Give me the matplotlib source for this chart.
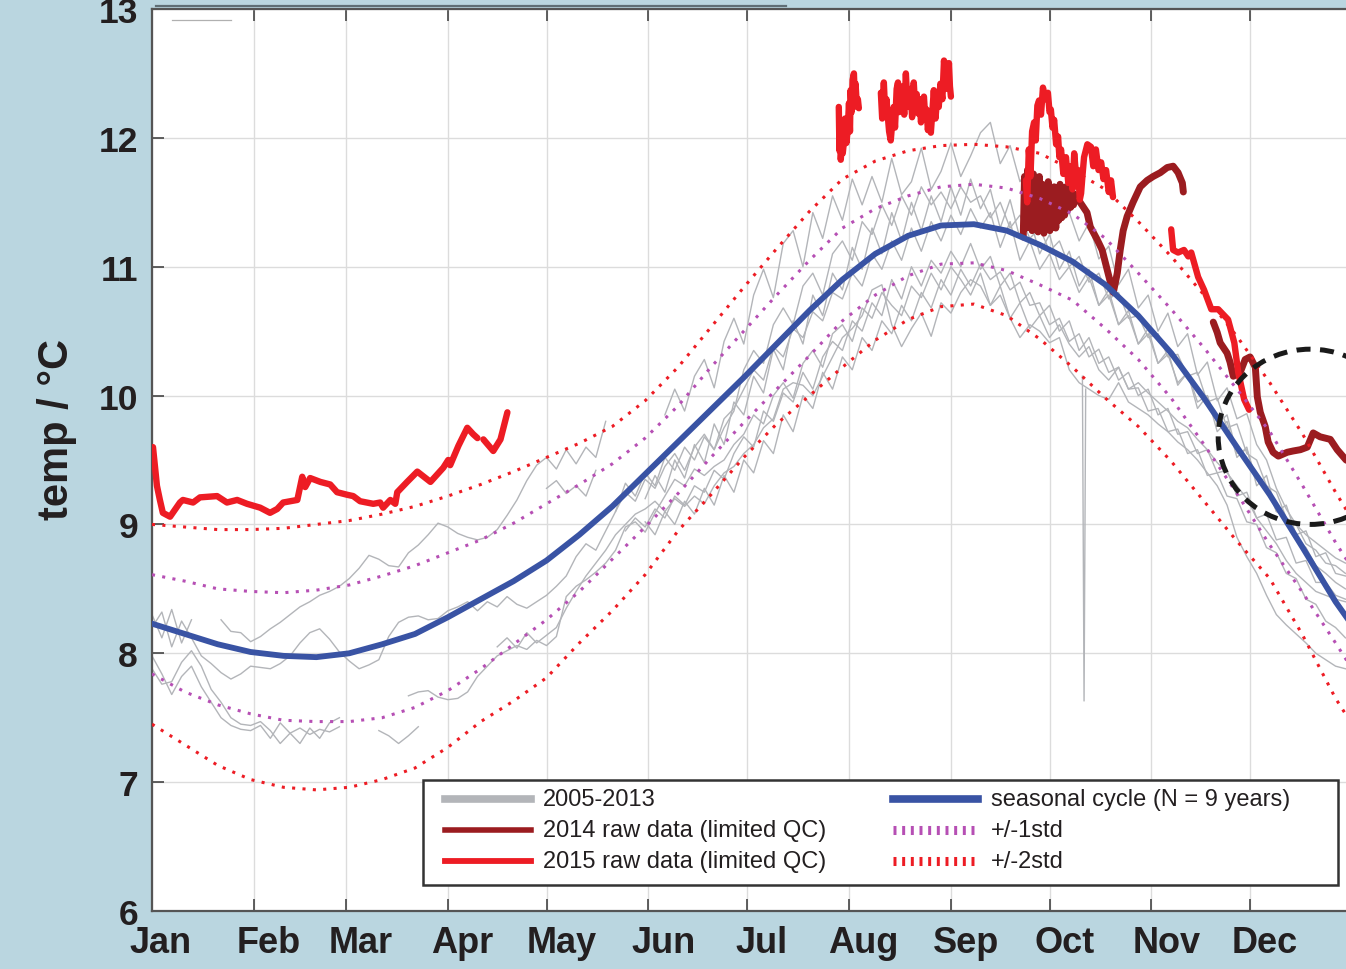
import numpy as np
import matplotlib.pyplot as plt
from matplotlib.lines import Line2D
from matplotlib.patches import Ellipse, Rectangle

plt.rcParams['font.family'] = ['Liberation Sans', 'DejaVu Sans']
nan = np.nan

months = ['Jan', 'Feb', 'Mar', 'Apr', 'May', 'Jun', 'Jul', 'Aug', 'Sep', 'Oct', 'Nov', 'Dec']
month_start = [0, 31, 59, 90, 120, 151, 181, 212, 243, 273, 304, 334]

# seasonal cycle and std envelopes (day of year, degC)
clim_days = [0, 10, 20, 30, 40, 50, 60, 70, 80, 90, 100, 110, 120, 130, 140, 150, 160, 170, 180,
             190, 200, 210, 220, 230, 240, 250, 260, 270, 280, 290, 300, 310, 320, 330, 340, 350, 360, 365]
clim_mean = [8.23, 8.15, 8.07, 8.01, 7.98, 7.97, 8.00, 8.07, 8.15, 8.28, 8.42, 8.56, 8.72, 8.92, 9.14,
             9.39, 9.64, 9.89, 10.14, 10.40, 10.66, 10.90, 11.10, 11.24, 11.32, 11.33, 11.28, 11.17,
             11.04, 10.86, 10.62, 10.33, 9.98, 9.60, 9.23, 8.82, 8.40, 8.22]
clim_p1 = [8.61, 8.56, 8.50, 8.48, 8.47, 8.49, 8.53, 8.60, 8.68, 8.78, 8.88, 9.01, 9.16, 9.31, 9.47,
           9.67, 9.92, 10.22, 10.50, 10.78, 11.05, 11.30, 11.45, 11.55, 11.62, 11.64, 11.61, 11.53,
           11.41, 11.22, 10.95, 10.67, 10.37, 10.05, 9.72, 9.30, 8.86, 8.66]
clim_m1 = [7.84, 7.70, 7.60, 7.53, 7.48, 7.47, 7.47, 7.50, 7.58, 7.71, 7.88, 8.07, 8.26, 8.48, 8.73,
           8.98, 9.24, 9.52, 9.79, 10.05, 10.31, 10.58, 10.78, 10.93, 11.02, 11.03, 10.97, 10.86,
           10.74, 10.52, 10.28, 9.98, 9.62, 9.24, 8.84, 8.47, 8.08, 7.88]
clim_p2 = [9.00, 8.98, 8.96, 8.96, 8.97, 9.00, 9.03, 9.08, 9.14, 9.22, 9.31, 9.41, 9.52, 9.63, 9.76,
           9.96, 10.22, 10.53, 10.84, 11.14, 11.43, 11.68, 11.82, 11.90, 11.94, 11.95, 11.93, 11.88,
           11.75, 11.60, 11.35, 11.08, 10.78, 10.46, 10.10, 9.70, 9.25, 9.04]
clim_m2 = [7.45, 7.29, 7.13, 7.02, 6.96, 6.94, 6.96, 7.02, 7.11, 7.27, 7.47, 7.63, 7.81, 8.08, 8.33,
           8.61, 8.95, 9.23, 9.52, 9.78, 10.00, 10.22, 10.43, 10.59, 10.69, 10.71, 10.62, 10.44,
           10.22, 9.98, 9.76, 9.49, 9.18, 8.87, 8.58, 8.14, 7.65, 7.45]

# 2005-2013 records, every 3rd day (0, 3, ..., 363)
hist_days = list(range(0, 366, 3))
hist_a = [8.30, 8.12, 8.34, 8.08, 8.26, nan, nan, 8.26, 8.17, 8.16,
          8.09, 8.13, 8.19, 8.24, 8.30, 8.36, 8.40, 8.45, 8.48, 8.52,
          8.58, 8.66, 8.76, 8.73, 8.68, 8.67, 8.78, 8.84, 8.92, 9.01,
          8.98, 8.93, 8.90, 8.88, 8.90, 8.96, 9.07, 9.19, 9.34, 9.46,
          9.52, 9.43, 9.58, 9.47, 9.60, 9.52, 9.80, nan, nan, nan,
          nan, nan, 9.85, 10.05, 9.88, 10.15, 10.28, 10.06, 10.42, 10.60,
          10.40, 10.78, 10.98, 10.76, 11.18, 11.28, 11.00, 11.42, 11.22, 11.55,
          11.36, 11.68, 11.48, 11.70, 11.50, 11.84, 11.56, 11.66, 11.92, 11.60,
          11.74, 11.96, 11.70, 11.86, 12.04, 12.12, 11.80, 11.94, 11.66, 11.78,
          11.46, 11.58, 11.36, 11.42, 11.20, 11.34, 11.06, 11.16, 10.86, 10.98,
          10.68, 10.78, 10.50, 10.64, 10.38, 10.48, 10.16, 10.26, 9.96, 10.06,
          9.82, 9.86, 9.62, 9.50, 9.28, 9.12, 9.00, 8.92, 8.86, 8.80,
          8.74, 8.70]
hist_b = [7.98, 7.84, 7.68, 7.82, 7.90, 7.74, 7.62, 7.50, 7.44, 7.41,
          7.40, 7.44, 7.34, 7.46, 7.38, 7.42, 7.37, 7.41, 7.39, 7.43,
          nan, nan, nan, nan, nan, nan, 7.67, 7.70, 7.71, 7.66,
          7.64, 7.65, 7.70, 7.82, 7.90, 7.98, 8.02, 8.06, 8.03, 8.10,
          8.06, 8.13, 8.44, 8.52, 8.57, 8.63, 8.70, 8.80, 8.98, 9.02,
          8.94, 9.09, 9.22, 9.35, 9.30, 9.43, 9.38, 9.45, 9.50, 9.62,
          9.70, 9.85, 9.78, 10.00, 10.10, 9.98, 10.25, 10.35, 10.22, 10.48,
          10.55, 10.42, 10.68, 10.60, 10.80, 10.70, 10.62, 10.85, 10.76, 10.95,
          10.82, 11.00, 10.90, 10.78, 10.95, 10.70, 10.85, 10.60, 10.72, 10.52,
          10.62, 10.45, 10.55, 10.40, 10.30, 10.38, 10.20, 10.12, 10.22, 10.05,
          10.10, 10.02, 9.95, 9.88, 9.80, 9.75, 9.66, 9.58, 9.48, 9.40,
          9.30, 9.20, 9.05, 8.95, 8.85, 8.72, 8.62, 8.55, 8.48, 8.45,
          8.42, 8.40]
hist_c = [8.20, 8.32, 8.05, 8.25, 8.12, 7.98, 7.92, 7.85, 7.80, 7.84,
          7.90, 7.89, 7.88, 7.92, 7.98, 8.08, 8.16, 8.19, 8.11, 8.01,
          7.94, 7.88, 7.91, 7.95, 8.13, 8.24, 8.28, 8.29, 8.26, 8.27,
          8.33, 8.36, 8.40, 8.33, 8.40, 8.36, 8.44, 8.38, 8.35, 8.40,
          8.45, 8.52, 8.60, 8.75, 8.85, 8.80, 8.95, 9.10, 9.25, 9.18,
          9.35, 9.28, 9.45, 9.55, 9.42, 9.60, 9.70, 9.58, 9.82, 9.90,
          10.05, 10.20, 10.12, 10.38, 10.30, 10.52, 10.45, 10.65, 10.58, 10.80,
          10.75, 10.95, 10.85, 11.10, 10.98, 11.20, 11.05, 11.30, 11.12, 11.35,
          11.20, 11.40, 11.25, 11.45, 11.30, 11.42, 11.15, 11.35, 11.05, 11.20,
          10.98, 11.10, 10.90, 11.00, 10.80, 10.92, 10.70, 10.78, 10.55, 10.62,
          10.40, 10.48, 10.25, 10.32, 10.10, 10.18, 9.95, 10.00, 9.78, 9.85,
          9.55, 9.58, 9.35, 9.30, 9.10, 9.05, 8.88, 8.82, 8.68, 8.62,
          8.55, 8.50]
hist_d = [7.88, 7.76, 7.78, 7.93, 8.02, 7.90, 7.72, 7.62, 7.50, 7.45,
          7.44, 7.47, 7.40, 7.30, 7.38, 7.30, 7.42, 7.34, 7.46, 7.50,
          nan, nan, nan, 7.40, 7.36, 7.30, 7.36, 7.43, nan, nan,
          nan, nan, nan, nan, nan, 8.05, 8.12, 8.04, 8.16, 8.08,
          8.14, 8.20, 8.35, 8.48, 8.60, 8.70, 8.80, 8.92, 9.00, 9.08,
          9.12, 9.18, 9.10, 9.20, 9.14, 9.22, 9.16, 9.30, 9.40, 9.45,
          9.55, 9.62, 9.75, 9.82, 10.05, 10.10, 10.08, 10.00, 10.15, 10.30,
          10.45, 10.52, 10.62, 10.82, 10.86, 10.55, 10.38, 10.52, 10.64, 10.46,
          10.72, 10.64, 10.80, 10.90, 10.85, 10.70, 10.78, 10.60, 10.45, 10.55,
          10.50, 10.41, 10.45, 10.20, 10.10, 10.05, 10.00, 9.97, 10.10, 9.95,
          9.90, 9.85, 9.78, 9.72, 9.64, 9.58, 9.50, 9.40, 9.30, 9.15,
          8.90, 8.75, 8.62, 8.45, 8.30, 8.22, 8.15, 8.08, 8.00, 7.95,
          7.90, 7.88]
hist_e = [nan] * 40 + [
          9.28, 9.34, 9.24, 9.30, 9.22, 9.42, nan, 9.10, 9.32, 9.22,
          9.40, 9.30, 9.52, 9.42, 9.60, 9.50, 9.68, 9.58, 9.75, 9.88,
          10.20, 10.35, 10.25, 10.55, 10.68, 10.55, 10.85, 10.95, 10.78, 11.10,
          11.20, 11.05, 11.35, 11.25, 11.48, 11.32, 11.55, 11.40, 11.62, 11.48,
          11.58, 11.45, 11.62, 11.50, 11.55, 11.38, 11.50, 11.30, 11.40, 11.22,
          11.30, 11.12, 11.20, 11.00, 11.08, 10.88, 10.95, 10.75, 10.80, 10.60,
          10.62, 10.45, 10.48, 10.30, 10.32, 10.15, 10.18, 9.95, 9.98, 9.75,
          9.78, 9.55, 9.50, 9.30, 9.25, 9.05, 9.00, 8.85, 8.80, 8.70,
          8.68, 8.62]
hist_f = [nan] * 48 + [
          8.95, 9.05,
          8.98, 9.12, 9.05, 9.22, 9.15, 9.30, 9.25, 9.42, 9.35, 9.55,
          9.68, 9.60, 9.88, 9.80, 10.02, 9.95, 10.18, 10.05, 10.30, 10.42,
          10.35, 10.58, 10.50, 10.72, 10.62, 10.90, 10.75, 11.00, 10.85, 11.05,
          10.95, 11.12, 11.00, 11.18, 10.98, 11.08, 10.85, 10.95, 10.72, 10.80,
          10.62, 10.70, 10.50, 10.58, 10.35, 10.45, 10.25, 10.30, 10.12, 10.18,
          10.00, 10.05, 9.85, 9.90, 9.70, 9.72, 9.55, 9.58, 9.40, 9.42,
          9.22, 9.25, 9.05, 9.08, 8.88, 8.90, 8.70, 8.72, 8.55, 8.55,
          8.45, 8.42]
hist_g = [nan] * 50 + [
          9.20, 9.38, 9.25, 9.50, 9.36, 9.62, 9.48, 9.78, 9.62, 9.95,
          9.85, 10.15, 10.02, 10.36, 10.20, 10.58, 10.40, 10.78, 10.62, 10.95,
          10.82, 11.15, 10.98, 11.30, 11.10, 11.42, 11.20, 11.50, 11.28, 11.55,
          11.35, 11.62, 11.40, 11.68, 11.45, 11.60, 11.30, 11.52, 11.22, 11.38,
          11.10, 11.25, 10.98, 11.12, 10.85, 10.98, 10.70, 10.82, 10.55, 10.66,
          10.40, 10.52, 10.25, 10.35, 10.08, 10.18, 9.90, 10.00, 9.72, 9.80,
          9.52, 9.60, 9.30, 9.38, 9.10, 9.15, 8.92, 8.95, 8.75, 8.78,
          8.62, 8.60]
hist_h = [nan] * 50 + [
          9.02, 8.92, 9.10, 9.00, 9.18, 9.08, 9.28, 9.15, 9.38, 9.25,
          9.50, 9.40, 9.65, 9.55, 9.85, 9.72, 10.00, 9.90, 10.18, 10.05,
          10.30, 10.20, 10.45, 10.35, 10.58, 10.48, 10.70, 10.58, 10.80, 10.68,
          10.90, 10.78, 10.98, 10.85, 11.02, 10.90, 10.96, 10.82, 10.88, 10.70,
          10.72, 10.55, 10.60, 10.42, 10.48, 10.30, 10.36, 10.18, 10.22, 10.05,
          10.06, 9.88, 9.90, 9.72, 9.74, 9.55, 9.58, 9.38, 9.40, 9.22,
          9.20, 9.02, 9.00, 8.82, 8.78, 8.62, 8.58, 8.42, 8.38, 8.25,
          8.20, 8.12]
spike_days = [283.0, 283.5, 284.0]
spike_temp = [10.15, 7.63, 10.05]

# 2014 raw data
y2014_a_days = [265.0, 265.4, 265.9, 266.3, 266.8, 267.2, 267.7, 268.1, 268.6, 269.0, 269.5, 269.9,
                270.4, 270.8, 271.3, 271.7, 272.2, 272.6, 273.1, 273.5, 274.0, 274.4, 274.9, 275.3,
                275.8, 276.2, 276.7, 277.1, 277.6, 278.0, 278.5, 278.9, 279.4, 279.8, 280.3, 280.8,
                281.5, 282.3, 284.4, 285.4, 287.5, 289.0, 290.5, 291.5, 292.4, 293.6, 294.5, 295.4,
                296.6, 298.4, 300.6, 302.7, 304.5, 306.7, 308.8, 310.6, 312.1, 313.4, 313.7]
y2014_a_temp = [11.23, 11.70, 11.30, 11.75, 11.35, 11.68, 11.28, 11.72, 11.32, 11.66, 11.27, 11.70,
                11.35, 11.64, 11.26, 11.62, 11.30, 11.66, 11.28, 11.60, 11.33, 11.62, 11.30, 11.58,
                11.36, 11.64, 11.38, 11.60, 11.40, 11.62, 11.44, 11.60, 11.46, 11.58, 11.48, 11.56,
                11.52, 11.50, 11.42, 11.31, 11.21, 11.13, 10.98, 10.88, 10.80, 10.95, 11.13, 11.28,
                11.39, 11.50, 11.62, 11.67, 11.70, 11.73, 11.77, 11.78, 11.73, 11.65, 11.58]
y2014_b_days = [322.8, 324.0, 324.9, 327.0, 327.9, 328.9, 331.0, 332.5, 334.0, 335.6, 336.2, 337.1,
                338.6, 339.5, 341.0, 342.6, 345.3, 347.1, 349.3, 351.4, 353.2, 355.3, 358.4, 360.5,
                363.2, 365.0]
y2014_b_temp = [10.57, 10.49, 10.41, 10.33, 10.26, 10.15, 10.18, 10.28, 10.30, 10.22, 9.99, 9.87,
                9.76, 9.64, 9.56, 9.53, 9.56, 9.57, 9.58, 9.60, 9.71, 9.68, 9.66, 9.58,
                9.50, 9.48]

# 2015 raw data
y2015_a_days = [0.3, 1.5, 2.4, 3.3, 5.5, 8.5, 9.4, 12.5, 14.6, 19.8, 22.8, 25.9, 28.9, 32.9, 35.9,
                38.1, 39.9, 44.2, 45.7, 46.6, 48.1, 51.2, 54.2, 56.3, 59.4, 61.2, 63.3, 67.3, 69.4,
                70.3, 72.5, 74.0, 74.6, 77.6, 80.7, 84.7, 88.6, 90.1, 90.7, 93.2, 95.9, 97.7, 99.0]
y2015_a_temp = [9.60, 9.30, 9.19, 9.09, 9.06, 9.17, 9.19, 9.17, 9.21, 9.22, 9.17, 9.19, 9.16, 9.13, 9.09,
                9.12, 9.17, 9.19, 9.37, 9.29, 9.36, 9.33, 9.31, 9.25, 9.23, 9.22, 9.18, 9.16, 9.17,
                9.13, 9.19, 9.16, 9.25, 9.33, 9.41, 9.33, 9.44, 9.50, 9.46, 9.61, 9.75, 9.70, 9.67]
y2015_b_days = [100.8, 103.8, 106.0, 108.1]
y2015_b_temp = [9.66, 9.57, 9.66, 9.87]
y2015_c_days = [208.9, 209.1, 209.3, 209.5, 209.8, 210.1, 210.5, 210.8, 211.2, 211.6, 212.0, 212.3,
                212.5, 212.8, 213.1, 213.5, 213.8, 214.0, 214.4, 214.7, 215.0]
y2015_c_temp = [12.24, 11.90, 12.10, 11.83, 11.95, 11.88, 11.98, 12.15, 11.96, 12.06, 12.27, 12.05,
                12.37, 12.20, 12.45, 12.50, 12.28, 12.42, 12.24, 12.30, 12.23]
y2015_d_days = [221.7, 222.1, 222.6, 223.0, 223.4, 223.8, 224.2, 224.7, 225.1, 225.6, 226.0, 226.5,
                226.9, 227.3, 227.8, 228.3, 228.8, 229.3, 229.7, 230.2, 230.7, 231.2, 231.7, 232.1,
                232.6, 233.0, 233.5, 233.9, 234.4, 234.8, 235.2, 235.6, 236.0, 236.5, 236.9, 237.4,
                237.8, 238.3, 238.8, 239.3, 239.8, 240.4, 240.9, 241.5, 242.1, 242.4, 242.7, 243.0]
y2015_d_temp = [12.35, 12.15, 12.43, 12.20, 12.30, 12.17, 12.05, 11.98, 12.10, 12.24, 12.08, 12.38,
                12.43, 12.20, 12.24, 12.40, 12.18, 12.50, 12.30, 12.24, 12.38, 12.16, 12.43, 12.25,
                12.34, 12.19, 12.30, 12.12, 12.26, 12.32, 12.15, 12.22, 12.06, 12.18, 12.04, 12.22,
                12.37, 12.15, 12.30, 12.24, 12.42, 12.30, 12.60, 12.38, 12.40, 12.58, 12.40, 12.32]
y2015_e_days = [265.8, 266.2, 266.7, 267.2, 267.7, 268.3, 268.8, 269.3, 269.8, 270.4, 271.0, 271.7,
                272.5, 273.0, 273.4, 273.9, 274.4, 275.0, 275.6, 276.0, 276.5, 277.2, 278.0, 278.7,
                279.5, 280.0, 280.5, 281.1, 281.7, 282.2, 282.6, 283.0, 283.5, 284.5, 285.6, 286.3,
                287.1, 287.9, 288.7, 289.4, 290.2, 291.0, 291.7, 292.3]
y2015_e_temp = [11.67, 11.50, 11.91, 11.70, 12.05, 12.12, 11.98, 12.25, 12.29, 12.18, 12.39, 12.30,
                12.35, 12.20, 12.22, 12.08, 12.14, 11.95, 12.01, 11.85, 11.91, 11.72, 11.85, 11.65,
                11.78, 11.60, 11.88, 11.70, 11.75, 11.52, 11.57, 11.70, 11.85, 11.95, 11.93, 11.78,
                11.91, 11.75, 11.81, 11.68, 11.75, 11.58, 11.67, 11.54]
y2015_f_days = [310.0, 310.6, 312.1, 313.9, 315.2, 316.1, 318.2, 320.0, 322.2, 324.3, 327.3, 329.2,
                330.4, 332.2, 333.7]
y2015_f_temp = [11.29, 11.13, 11.11, 11.13, 11.08, 11.11, 10.92, 10.82, 10.67, 10.67, 10.59, 10.41,
                10.18, 9.97, 9.89]

gray = '#b3b5b9'
dark_red = '#9b1c20'
red = '#ed1c24'
blue = '#3953a4'
magenta = '#b64fb4'

W, H = 1346, 970
fig = plt.figure(figsize=(W / 100, H / 100), dpi=100)
fig.patch.set_facecolor('#bad6e0')
ax = fig.add_axes([152 / W, 1 - 912 / H, 1200 / W, 902 / H])
ax.set_facecolor('white')

for hist in [hist_a, hist_b, hist_c, hist_d, hist_e, hist_f, hist_g, hist_h]:
    ax.plot(hist_days, hist, color=gray, lw=1.0, zorder=2)
ax.plot(spike_days, spike_temp, color=gray, lw=1.0, zorder=2)

for d, t in [(y2014_a_days, y2014_a_temp), (y2014_b_days, y2014_b_temp)]:
    ax.plot(d, t, color=dark_red, lw=5, solid_joinstyle='round', solid_capstyle='round', zorder=3)
for d, t in [(y2015_a_days, y2015_a_temp), (y2015_b_days, y2015_b_temp), (y2015_c_days, y2015_c_temp),
             (y2015_d_days, y2015_d_temp), (y2015_e_days, y2015_e_temp), (y2015_f_days, y2015_f_temp)]:
    ax.plot(d, t, color=red, lw=4.6, solid_joinstyle='round', solid_capstyle='round', zorder=3.1)

ax.plot(clim_days, clim_mean, color=blue, lw=4.2, solid_joinstyle='round', zorder=4)
dots = (0, (1, 2.4))
ax.plot(clim_days, clim_p1, color=magenta, lw=2.2, ls=dots, zorder=5)
ax.plot(clim_days, clim_m1, color=magenta, lw=2.2, ls=dots, zorder=5)
ax.plot(clim_days, clim_p2, color=red, lw=2.2, ls=dots, zorder=5)
ax.plot(clim_days, clim_m2, color=red, lw=2.2, ls=dots, zorder=5)

ax.add_patch(Ellipse((352.3, 9.68), 56, 1.36, fill=False, ec='#1a1a1a', lw=3.6,
                     ls=(0, (2.8, 1.9)), zorder=6))

ax.set_xlim(0, 365)
ax.set_ylim(6, 13)
ax.set_xticks(month_start)
ax.set_xticklabels([])
label_x = [m + 4.5 for m in month_start]
label_x[0] = 2.5
ax.set_xticks(label_x, minor=True)
ax.set_xticklabels(months, minor=True, fontsize=26, fontweight='bold', color='#231f20')
ax.tick_params(axis='x', which='minor', length=0, pad=10)
ax.set_yticks(range(6, 14))
ax.set_yticklabels([str(v) for v in range(6, 14)], fontsize=25.5, fontweight='bold', color='#231f20')
ax.tick_params(which='major', direction='in', length=8.5, width=1.2, color='#444444',
               top=True, right=False)
ax.tick_params(axis='y', pad=10)
ax.grid(True, which='major', color='#dcdcdc', lw=1)
ax.set_axisbelow(True)
for side in ['left', 'bottom', 'top']:
    ax.spines[side].set_color('#555555')
    ax.spines[side].set_linewidth(1.6)
ax.spines['right'].set_visible(False)

fig.text(57 / W, 1 - 430 / H, 'temp / °C', rotation=90, fontsize=30, fontweight='bold',
         ha='center', va='center', color='#231f20')

fig.add_artist(Line2D([156 / W, 786 / W], [1 - 6.5 / H] * 2, color='#5f6e75', lw=1.6))
fig.add_artist(Line2D([172 / W, 231 / W], [1 - 21 / H] * 2, color='#b0b0b0', lw=0.9))

# legend box drawn by hand (figure pixels -> fractions)
def fx(px):
    return px / W


def fy(py):
    return 1 - py / H


fig.add_artist(Rectangle((fx(423), fy(886)), fx(1338) - fx(423), fy(781) - fy(886),
                         transform=fig.transFigure, facecolor='white', edgecolor='#333333',
                         lw=1.8, zorder=10))
legend_rows = [
    (445, 531, 543, 800, dict(color=gray, lw=5.5), '2005-2013'),
    (445, 531, 543, 831, dict(color=dark_red, lw=4), '2014 raw data (limited QC)'),
    (445, 531, 543, 862, dict(color=red, lw=4.2), '2015 raw data (limited QC)'),
    (893, 978, 991, 800, dict(color=blue, lw=5.5), 'seasonal cycle (N = 9 years)'),
    (893, 978, 991, 831, dict(color=magenta, lw=6.5, ls=(0, (0.33, 0.63))), '+/-1std'),
    (893, 978, 991, 862, dict(color=red, lw=6.5, ls=(0, (0.33, 0.63))), '+/-2std'),
]
for x0, x1, xt, yy, style, text in legend_rows:
    fig.add_artist(Line2D([fx(x0), fx(x1)], [fy(yy)] * 2, zorder=11, **style))
    fig.text(fx(xt), fy(yy), text, fontsize=17, ha='left', va='center', color='#231f20', zorder=11)

fig.savefig('out.png', dpi=100, facecolor=fig.get_facecolor())
